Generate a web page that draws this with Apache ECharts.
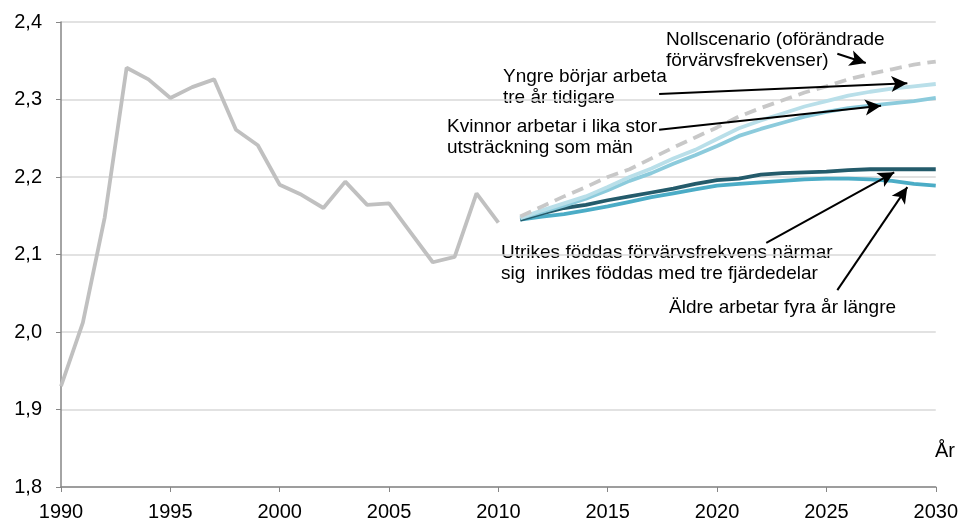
<!DOCTYPE html>
<html>
<head>
<meta charset="utf-8">
<script src="https://cdn.jsdelivr.net/npm/echarts@6/dist/echarts.min.js"></script>
<style>
  html, body { margin: 0; padding: 0; background: #fff; }
  #main { width: 961px; height: 523px; }
</style>
</head>
<body>
<div id="main"></div>
<script>
// historiskt utfall 1990-2010
const histYears = [1990, 1991, 1992, 1993, 1994, 1995, 1996, 1997, 1998, 1999, 2000,
  2001, 2002, 2003, 2004, 2005, 2006, 2007, 2008, 2009, 2010]
const histValues = [1.930, 2.012, 2.148, 2.341, 2.326, 2.302, 2.316, 2.326, 2.261, 2.241, 2.190,
  2.177, 2.160, 2.194, 2.164, 2.166, 2.128, 2.090, 2.097, 2.179, 2.141]

// scenarier 2011-2030
const scenYears = [2011, 2012, 2013, 2014, 2015, 2016, 2017, 2018, 2019, 2020,
  2021, 2022, 2023, 2024, 2025, 2026, 2027, 2028, 2029, 2030]
const nollValues = [2.149, 2.162, 2.175, 2.187, 2.200, 2.210, 2.224, 2.238, 2.251, 2.264,
  2.278, 2.289, 2.299, 2.309, 2.317, 2.326, 2.333, 2.339, 2.345, 2.349]
const yngreValues = [2.147, 2.157, 2.166, 2.175, 2.187, 2.200, 2.211, 2.224, 2.235, 2.249,
  2.263, 2.273, 2.282, 2.291, 2.298, 2.305, 2.310, 2.314, 2.317, 2.320]
const kvinnorValues = [2.147, 2.155, 2.163, 2.172, 2.183, 2.195, 2.205, 2.217, 2.228, 2.240,
  2.253, 2.262, 2.270, 2.278, 2.284, 2.289, 2.292, 2.295, 2.298, 2.302]
const utrikesValues = [2.145, 2.153, 2.160, 2.164, 2.170, 2.175, 2.180, 2.185, 2.191, 2.196,
  2.198, 2.203, 2.205, 2.206, 2.207, 2.209, 2.210, 2.210, 2.210, 2.210]
const aldreValues = [2.145, 2.149, 2.152, 2.157, 2.162, 2.168, 2.174, 2.179, 2.184, 2.189,
  2.191, 2.193, 2.195, 2.197, 2.198, 2.198, 2.197, 2.195, 2.191, 2.189]

const yTicks = [1.8, 1.9, 2.0, 2.1, 2.2, 2.3, 2.4]

// pilar för etiketterna, [från, till] i dataenheter (år, värde)
const arrows = [
  [[2025.5, 2.359], [2026.8, 2.347]],
  [[2017.35, 2.307], [2028.7, 2.321]],
  [[2017.35, 2.261], [2027.5, 2.292]],
  [[2022.25, 2.115], [2028.1, 2.206]],
  [[2025.5, 2.054], [2028.7, 2.187]],
]

const pairs = (xs, ys) => xs.map((x, i) => [x, ys[i]])
const font = '"Liberation Sans", Arial, sans-serif'
const noteFont = '19px ' + font

const chart = echarts.init(document.getElementById('main'))

function lineSeries(name, data, color, dashed) {
  return {
    name: name,
    type: 'line',
    data: data,
    symbol: 'none',
    smooth: false,
    lineStyle: { color: color, width: 3.8, type: dashed ? [12, 7] : 'solid', cap: 'butt' },
    animation: false,
    silent: true,
  }
}

const histSeries = lineSeries('Utfall', pairs(histYears, histValues), '#c0c0c0')
histSeries.markLine = {
  silent: true,
  animation: false,
  symbol: ['none', 'arrow'],
  symbolSize: [12, 16],
  lineStyle: { color: '#000', width: 2, type: 'solid' },
  label: { show: false },
  data: arrows.map(a => [{ coord: a[0] }, { coord: a[1] }]),
}

const option = {
  backgroundColor: '#fff',
  textStyle: { fontFamily: font },
  grid: { left: 61, right: 24, top: 22, bottom: 36 },
  xAxis: {
    type: 'value',
    min: 1990,
    max: 2030,
    interval: 5,
    axisLine: { lineStyle: { color: '#868686', width: 1.5 } },
    axisTick: { show: true, length: 5, lineStyle: { color: '#868686' } },
    axisLabel: { color: '#000', fontSize: 20, fontFamily: font, margin: 15, formatter: v => String(v) },
    splitLine: { show: false },
  },
  yAxis: {
    type: 'value',
    min: yTicks[0],
    max: yTicks[yTicks.length - 1],
    interval: 0.1,
    axisLine: { show: true, lineStyle: { color: '#868686', width: 1.5 } },
    axisTick: { show: true, length: 5, lineStyle: { color: '#868686' } },
    axisLabel: {
      color: '#000', fontSize: 20, fontFamily: font, margin: 19,
      formatter: v => v.toFixed(1).replace('.', ','),
    },
    splitLine: { show: true, lineStyle: { color: '#d9d9d9', width: 1.5 } },
  },
  series: [
    histSeries,
    lineSeries('Äldre arbetar fyra år längre', pairs(scenYears, aldreValues), '#4bacc6'),
    lineSeries('Utrikes föddas förvärvsfrekvens', pairs(scenYears, utrikesValues), '#245b6b'),
    lineSeries('Kvinnor arbetar i lika stor utsträckning', pairs(scenYears, kvinnorValues), '#8ccbdc'),
    lineSeries('Yngre börjar arbeta tre år tidigare', pairs(scenYears, yngreValues), '#b9dfe9'),
    lineSeries('Nollscenario', pairs(scenYears, nollValues), '#c8c8c8', true),
  ],
  graphic: [
    { type: 'text', left: 666, top: 29, silent: true,
      style: { text: 'Nollscenario (oförändrade\nförvärvsfrekvenser)', font: noteFont, fill: '#000', lineHeight: 21 } },
    { type: 'text', left: 503, top: 66, silent: true,
      style: { text: 'Yngre börjar arbeta\ntre år tidigare', font: noteFont, fill: '#000', lineHeight: 21 } },
    { type: 'text', left: 447, top: 116, silent: true,
      style: { text: 'Kvinnor arbetar i lika stor\nutsträckning som män', font: noteFont, fill: '#000', lineHeight: 21 } },
    { type: 'text', left: 501, top: 242, silent: true,
      style: { text: 'Utrikes föddas förvärvsfrekvens närmar\nsig  inrikes föddas med tre fjärdedelar', font: noteFont, fill: '#000', lineHeight: 21 } },
    { type: 'text', left: 669, top: 297, silent: true,
      style: { text: 'Äldre arbetar fyra år längre', font: noteFont, fill: '#000', lineHeight: 21 } },
    { type: 'text', left: 935, top: 441, silent: true,
      style: { text: 'År', font: '20px ' + font, fill: '#000' } },
  ],
}

chart.setOption(option)
</script>
</body>
</html>
